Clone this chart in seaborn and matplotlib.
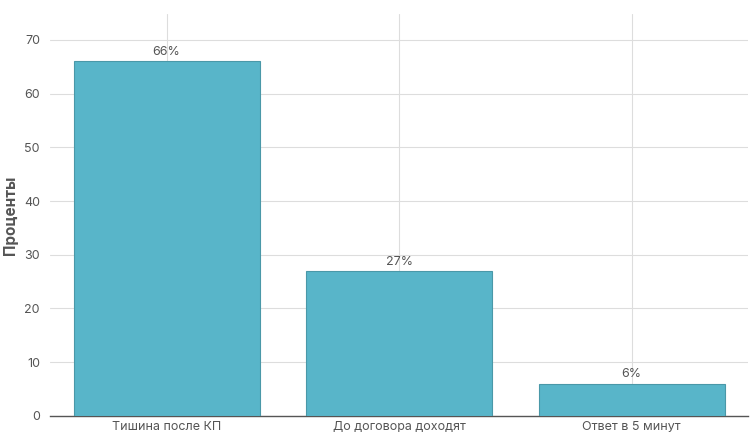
import matplotlib
matplotlib.use("Agg")
import matplotlib.pyplot as plt
import seaborn as sns
import pandas as pd

categories = ["Тишина после КП", "До договора доходят", "Ответ в 5 минут"]
values = [66, 27, 6]
labels = ["66%", "27%", "6%"]

sns.set_style("whitegrid")
plt.rcParams['font.family'] = ['Inter', 'DejaVu Sans']

df = pd.DataFrame({"cat": categories, "val": values})
fig = plt.figure(figsize=(7.51, 4.42), dpi=100)
ax = fig.add_axes([0.067, 0.059, 0.929, 0.909])
sns.barplot(data=df, x="cat", y="val", color="#58b5c9", saturation=1,
            edgecolor="#4a98a8", linewidth=0.8, width=0.8, ax=ax, zorder=3)
for i, (v, l) in enumerate(zip(values, labels)):
    ax.text(i, v + 0.6, l, ha="center", va="bottom", fontsize=9, color="#555555")
ax.set_xlim(-0.5, 2.5)
ax.set_ylim(0, 74.8)
ax.set_yticks(range(0, 80, 10))
ax.set_xlabel("")
ax.set_ylabel("Проценты", fontsize=11, fontweight="bold", color="#555555")
ax.tick_params(axis="both", labelsize=9, colors="#555555", length=4, color="#888888")
ax.tick_params(axis="x", length=0)
ax.grid(True, color="#dddddd", linewidth=0.8, zorder=0)
for s in ["top", "right", "left"]:
    ax.spines[s].set_visible(False)
ax.spines["bottom"].set_color("#555555")
ax.spines["bottom"].set_linewidth(1)
fig.savefig("out.png", dpi=100)
